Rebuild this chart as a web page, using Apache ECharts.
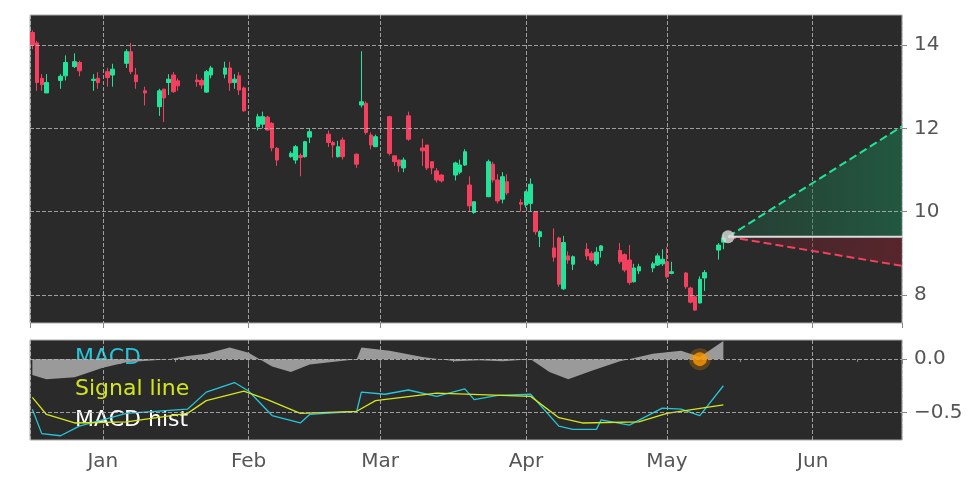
<!DOCTYPE html>
<html>
<head>
<meta charset="utf-8">
<script src="https://cdn.jsdelivr.net/npm/echarts@6/dist/echarts.min.js"></script>
<style>html,body{margin:0;background:#fff}#c{width:972px;height:486px}</style>
</head>
<body>
<div id="c"></div>
<script>
// candles: date, open, close, low, high
const candleDates = ['2022-12-17','2022-12-18','2022-12-19','2022-12-20','2022-12-23','2022-12-24','2022-12-26','2022-12-27','2022-12-30','2022-12-31',
  '2023-01-02','2023-01-03','2023-01-06','2023-01-07','2023-01-08','2023-01-10','2023-01-13','2023-01-14','2023-01-15','2023-01-16',
  '2023-01-17','2023-01-21','2023-01-22','2023-01-23','2023-01-24','2023-01-27','2023-01-28','2023-01-29','2023-01-30','2023-01-31',
  '2023-02-03','2023-02-04','2023-02-05','2023-02-06','2023-02-07','2023-02-10','2023-02-11','2023-02-12','2023-02-13','2023-02-14',
  '2023-02-18','2023-02-19','2023-02-20','2023-02-21','2023-02-24','2023-02-25','2023-02-26','2023-02-27','2023-02-28',
  '2023-03-03','2023-03-04','2023-03-05','2023-03-06','2023-03-07','2023-03-10','2023-03-11','2023-03-12','2023-03-13','2023-03-14',
  '2023-03-17','2023-03-18','2023-03-19','2023-03-20','2023-03-21','2023-03-24','2023-03-25','2023-03-26','2023-03-27','2023-03-28',
  '2023-03-31','2023-04-01','2023-04-02','2023-04-03','2023-04-04','2023-04-07','2023-04-08','2023-04-09','2023-04-10','2023-04-11',
  '2023-04-14','2023-04-15','2023-04-16','2023-04-17','2023-04-21','2023-04-22','2023-04-23','2023-04-24','2023-04-25',
  '2023-04-28','2023-04-29','2023-04-30','2023-05-01','2023-05-02','2023-05-05','2023-05-06','2023-05-07','2023-05-08','2023-05-09',
  '2023-05-12','2023-05-13'];
const ohlc = [
  [14.3,14.0,13.9,14.35],[14.05,13.1,12.9,14.1],[13.2,13.05,12.9,13.3],[12.85,13.1,12.85,13.3],[13.15,13.25,12.95,13.3],
  [13.26,13.58,13.15,13.75],[13.48,13.6,13.45,13.8],[13.58,13.38,13.25,13.62],[13.15,13.18,12.9,13.3],[13.2,13.1,12.95,13.35],
  [13.36,13.22,13.0,13.45],[13.28,13.42,13.0,13.55],[13.56,13.84,13.45,13.9],[13.84,13.36,13.3,14.05],[13.28,13.12,12.95,13.45],
  [12.9,12.85,12.55,13.0],[12.52,12.9,12.3,12.95],[12.94,12.73,12.15,12.95],[13.1,13.18,12.8,13.3],[13.28,12.88,12.85,13.35],
  [13.14,13.02,12.9,13.2],[13.16,13.12,13.0,13.3],[13.15,13.04,12.95,13.2],[12.87,13.36,12.85,13.4],[13.28,13.45,13.2,13.5],
  [13.3,13.45,13.2,13.6],[13.45,13.09,12.9,13.6],[13.1,13.18,12.95,13.3],[13.26,12.92,12.8,13.35],[12.97,12.42,12.4,13.0],
  [12.04,12.28,11.95,12.35],[12.1,12.28,12.0,12.4],[12.27,11.96,11.95,12.3],[12.12,11.53,11.45,12.15],[11.52,11.24,11.1,11.55],
  [11.32,11.4,11.3,11.45],[11.24,11.56,11.15,11.6],[11.35,11.3,10.85,11.4],[11.32,11.68,11.3,11.7],[11.79,11.92,11.65,12.0],
  [11.86,11.66,11.55,11.95],[11.66,11.6,11.3,11.7],[11.32,11.56,11.3,11.7],[11.72,11.32,11.25,11.78],[11.38,11.14,11.05,11.4],
  [12.56,12.64,12.5,13.85],[12.6,11.9,11.85,12.65],[11.84,11.6,11.5,11.9],[11.56,11.8,11.55,11.85],
  [12.28,11.4,11.35,12.3],[11.34,11.2,11.1,11.35],[11.24,11.1,10.95,11.25],[11.05,11.24,10.95,11.3],[12.3,11.74,11.7,12.4],
  [11.53,11.46,11.1,11.75],[11.6,11.05,11.0,11.6],[11.2,11.05,10.9,11.2],[10.98,10.76,10.7,11.05],[10.88,10.74,10.7,10.9],
  [10.88,11.17,10.75,11.2],[10.95,11.12,10.9,11.25],[11.12,11.44,11.1,11.5],[10.64,10.14,10.0,10.85],[9.98,10.24,9.95,10.25],
  [10.36,11.2,10.35,11.25],[11.14,10.76,10.7,11.2],[10.76,10.26,10.2,10.9],[10.3,10.84,10.2,10.95],[10.72,10.45,10.4,10.9],
  [10.22,10.18,10.0,10.3],[10.16,10.48,10.1,10.5],[10.2,10.66,10.0,10.8],[10.0,9.52,9.45,10.0],[9.4,9.52,9.15,9.55],
  [9.13,8.91,8.8,9.6],[9.37,8.26,8.2,9.4],[8.15,9.26,8.12,9.42],[8.94,8.84,8.75,9.05],[8.74,8.92,8.6,8.95],
  [9.1,8.94,8.85,9.25],[9.0,8.84,8.8,9.05],[8.75,9.03,8.7,9.15],[9.07,9.18,8.9,9.2],[9.07,8.8,8.75,9.25],
  [8.97,8.6,8.55,9.0],[8.84,8.3,8.25,9.2],[8.32,8.65,8.3,8.75],[8.58,8.68,8.5,8.75],
  [8.65,8.75,8.55,8.8],[8.72,8.94,8.7,9.0],[8.75,8.86,8.7,9.1],[8.8,8.44,8.4,9.15],[8.52,8.56,8.5,8.8],
  [8.53,8.2,8.15,8.55],[8.17,7.83,7.8,8.2],[7.96,7.64,7.62,8.0],[7.81,8.38,7.8,8.45],[8.41,8.54,8.1,8.6],
  [9.08,9.2,8.85,9.25],[9.27,9.37,9.1,9.45]
];
const projDates = ['2023-05-14','2023-06-20'];
const projUpper = [9.4, 12.05];
const projLower = [9.4, 8.7];
const projMid = [9.4, 9.4];

const macdPts = [['2022-12-17',-0.47],['2022-12-19',-0.70],['2022-12-23',-0.72],['2022-12-27',-0.63],['2023-01-06',-0.51],
  ['2023-01-19',-0.47],['2023-01-23',-0.31],['2023-01-29',-0.22],['2023-02-01',-0.30],['2023-02-06',-0.53],['2023-02-12',-0.60],
  ['2023-02-14',-0.52],['2023-02-24',-0.49],['2023-02-25',-0.31],['2023-03-02',-0.33],['2023-03-07',-0.29],['2023-03-13',-0.35],
  ['2023-03-19',-0.28],['2023-03-21',-0.38],['2023-03-26',-0.34],['2023-04-02',-0.33],['2023-04-08',-0.63],['2023-04-11',-0.66],
  ['2023-04-16',-0.66],['2023-04-17',-0.57],['2023-04-23',-0.62],['2023-04-30',-0.46],['2023-05-04',-0.47],['2023-05-08',-0.53],
  ['2023-05-13',-0.25]];
const signalPts = [['2022-12-17',-0.36],['2022-12-20',-0.52],['2022-12-26',-0.60],['2023-01-06',-0.59],['2023-01-19',-0.51],
  ['2023-01-23',-0.39],['2023-01-31',-0.30],['2023-02-05',-0.38],['2023-02-12',-0.51],['2023-02-24',-0.49],['2023-02-28',-0.39],
  ['2023-03-13',-0.32],['2023-04-02',-0.35],['2023-04-08',-0.55],['2023-04-13',-0.60],['2023-04-25',-0.59],['2023-05-01',-0.51],
  ['2023-05-13',-0.43]];
const histPts = [['2022-12-17',-0.15],['2022-12-20',-0.19],['2022-12-26',-0.17],['2023-01-01',-0.08],['2023-01-06',-0.03],
  ['2023-01-15',0.0],['2023-01-19',0.03],['2023-01-23',0.05],['2023-01-28',0.11],['2023-02-01',0.06],['2023-02-06',-0.07],
  ['2023-02-10',-0.12],['2023-02-14',-0.05],['2023-02-24',0.0],['2023-02-25',0.11],['2023-03-03',0.08],['2023-03-10',0.02],
  ['2023-03-17',-0.02],['2023-03-22',-0.01],['2023-03-27',-0.02],['2023-04-02',0.0],['2023-04-06',-0.12],['2023-04-10',-0.19],
  ['2023-04-15',-0.11],['2023-04-21',-0.02],['2023-04-28',0.05],['2023-05-04',0.08],['2023-05-08',0.02],['2023-05-13',0.17]];
const signalDot = ['2023-05-08', 0.0];

const xMin = '2022-12-16 12:00', xMax = '2023-06-20';
const up = '#22e39a', down = '#f2405e';
const axisText = {color: '#555', fontSize: 20, fontFamily: 'DejaVu Sans'};
const monthFmt = v => { const d = new Date(v); return d.getDate() === 1 ? ['Jan','Feb','Mar','Apr','May','Jun','Jul','Aug','Sep','Oct','Nov','Dec'][d.getMonth()] : ''; };
const split = {show: true, lineStyle: {color: '#bbb', type: 'dashed', width: 1, opacity: 0.8}};

const chart = echarts.init(document.getElementById('c'));
chart.setOption({
  animation: false,
  backgroundColor: '#fff',
  grid: [
    {left: 30, right: 70, top: 15, bottom: 163, show: true, backgroundColor: '#2a2a2a', borderColor: '#aaa'},
    {left: 30, right: 70, top: 340, height: 100, show: true, backgroundColor: '#2a2a2a', borderColor: '#aaa'}
  ],
  xAxis: [
    {type: 'time', gridIndex: 0, min: xMin, max: xMax, interval: 864e5 * 28, splitNumber: 6,
     axisLabel: {show: false}, axisTick: {show: true, lineStyle: {color: '#888'}}, axisLine: {show: false}, splitLine: split,
     minInterval: 864e5 * 28},
    {type: 'time', gridIndex: 1, min: xMin, max: xMax, minInterval: 864e5 * 28,
     axisLabel: Object.assign({formatter: monthFmt, margin: 12}, axisText),
     axisTick: {show: true, lineStyle: {color: '#888'}}, axisLine: {show: false}, splitLine: split,
     minorTick: {show: true, splitNumber: 2, lineStyle: {color: '#888'}}}
  ],
  yAxis: [
    {type: 'value', gridIndex: 0, position: 'right', min: 7.33, max: 14.72, scale: true,
     axisLabel: Object.assign({customValues: [8, 10, 12, 14], margin: 12}, axisText),
     axisTick: {show: true, customValues: [8, 10, 12, 14], lineStyle: {color: '#888'}}, axisLine: {show: false},
     splitLine: {show: false}},
    {type: 'value', gridIndex: 1, position: 'right', min: -0.76, max: 0.18,
     axisLabel: Object.assign({customValues: [-0.5, 0], margin: 12,
       formatter: v => v === 0 ? '0.0' : '\u22120.5'}, axisText),
     axisTick: {show: true, customValues: [-0.5, 0], lineStyle: {color: '#888'}}, axisLine: {show: false},
     splitLine: {show: false}}
  ],
  series: [
    {type: 'candlestick', xAxisIndex: 0, yAxisIndex: 0, barWidth: 4,
     data: candleDates.map((d, i) => [d].concat(ohlc[i])),
     itemStyle: {color: up, color0: down, borderColor: up, borderColor0: down, borderWidth: 1},
     markLine: {silent: true, symbol: 'none', label: {show: false},
       lineStyle: {color: '#bbb', type: 'dashed', width: 1, opacity: 0.8},
       data: [8, 10, 12, 14].map(v => ({yAxis: v}))}},
    {type: 'line', xAxisIndex: 0, yAxisIndex: 0, symbol: 'none', data: projDates.map((d, i) => [d, projUpper[i]]),
     lineStyle: {color: '#22e39a', type: 'dashed', width: 2},
     areaStyle: {origin: 9.4, color: new echarts.graphic.LinearGradient(0, 0, 1, 0, [{offset: 0, color: 'rgba(30,110,75,0.4)'}, {offset: 1, color: 'rgba(30,110,75,0.95)'}])}},
    {type: 'line', xAxisIndex: 0, yAxisIndex: 0, symbol: 'none', data: projDates.map((d, i) => [d, projLower[i]]),
     lineStyle: {color: '#f2405e', type: 'dashed', width: 2},
     areaStyle: {origin: 9.4, color: new echarts.graphic.LinearGradient(0, 0, 1, 0, [{offset: 0, color: 'rgba(110,35,45,0.4)'}, {offset: 1, color: 'rgba(110,35,45,0.95)'}])}},
    {type: 'line', xAxisIndex: 0, yAxisIndex: 0, symbol: 'none', data: projDates.map((d, i) => [d, projMid[i]]),
     lineStyle: {color: '#ddd', width: 2}},
    {type: 'scatter', xAxisIndex: 0, yAxisIndex: 0, symbolSize: 13, data: [[projDates[0], projMid[0]]],
     itemStyle: {color: '#ddd'}, z: 5},
    {type: 'line', xAxisIndex: 1, yAxisIndex: 1, symbol: 'none', data: histPts,
     lineStyle: {width: 0}, areaStyle: {origin: 0, color: '#9a9a9a', opacity: 1},
     markLine: {silent: true, symbol: 'none', label: {show: false},
       lineStyle: {color: '#bbb', type: 'dashed', width: 1, opacity: 0.8},
       data: [{yAxis: 0}, {yAxis: -0.5}]}},
    {type: 'line', xAxisIndex: 1, yAxisIndex: 1, symbol: 'none', data: macdPts, lineStyle: {color: '#26c6da', width: 1.3}},
    {type: 'line', xAxisIndex: 1, yAxisIndex: 1, symbol: 'none', data: signalPts, lineStyle: {color: '#d4e61a', width: 1.3}},
    {type: 'scatter', xAxisIndex: 1, yAxisIndex: 1, symbolSize: 14, data: [signalDot],
     itemStyle: {color: '#ff9800', borderColor: 'rgba(255,152,0,0.3)', borderWidth: 8}, z: 5}
  ],
  graphic: [
    {type: 'text', left: 75, top: 347, style: {text: 'MACD', fill: '#26c6da', fontSize: 22, fontFamily: 'DejaVu Sans'}},
    {type: 'text', left: 75, top: 378, style: {text: 'Signal line', fill: '#d4e61a', fontSize: 22, fontFamily: 'DejaVu Sans'}},
    {type: 'text', left: 75, top: 409, style: {text: 'MACD hist', fill: '#fff', fontSize: 22, fontFamily: 'DejaVu Sans'}}
  ]
});
</script>
</body>
</html>
